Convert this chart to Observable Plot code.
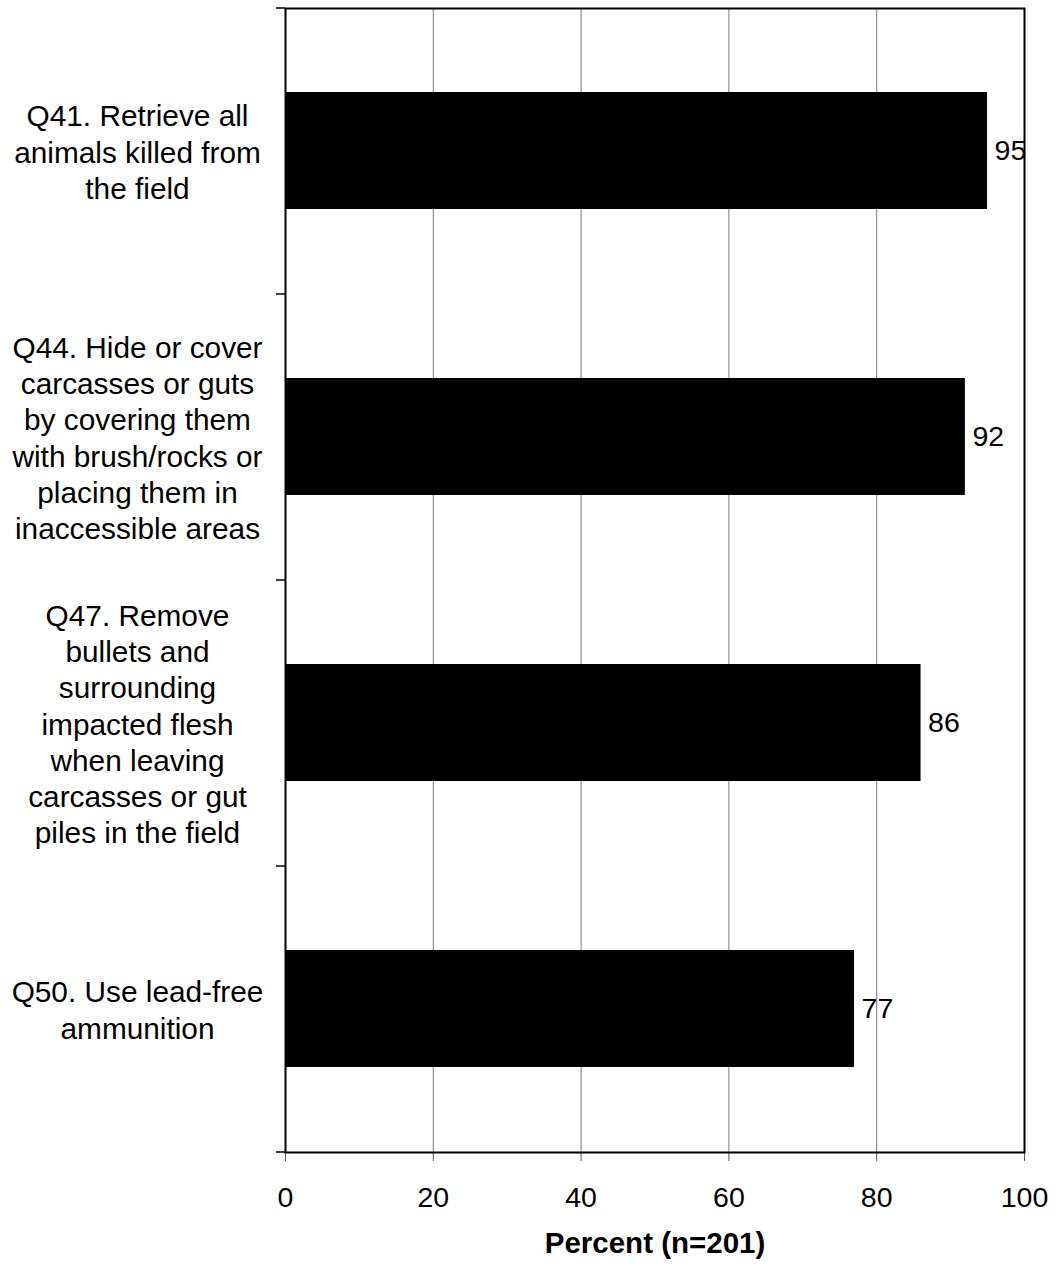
<!DOCTYPE html>
<html>
<head>
<meta charset="utf-8">
<script src="https://cdn.jsdelivr.net/npm/d3@7"></script>
<script src="https://cdn.jsdelivr.net/npm/@observablehq/plot@0.6"></script>
<style>
  html, body { margin: 0; padding: 0; background: #fff; }
  #chart svg { display: block; }
</style>
</head>
<body>
<div id="chart"></div>
<script>
const categories = ["Q41", "Q44", "Q47", "Q50"];
const values = [95, 92, 86, 77];
const labels = [
  "Q41. Retrieve all\nanimals killed from\nthe field",
  "Q44. Hide or cover\ncarcasses or guts\nby covering them\nwith brush/rocks or\nplacing them in\ninaccessible areas",
  "Q47. Remove\nbullets and\nsurrounding\nimpacted flesh\nwhen leaving\ncarcasses or gut\npiles in the field",
  "Q50. Use lead-free\nammunition"
];
const xTicks = [0, 20, 40, 60, 80, 100];
const gridTicks = [20, 40, 60, 80];
const xTitle = "Percent (n=201)";

const data = categories.map((c, i) => ({cat: c, value: values[i], label: labels[i]}));

const W = 1056, H = 1264;
const mT = 8, mB = 112, mL = 285, mR = 32;
const step = (H - mT - mB) / categories.length;
const font = "Arial, 'Liberation Sans', sans-serif";

const chart = Plot.plot({
  width: W,
  height: H,
  marginTop: mT,
  marginBottom: mB,
  marginLeft: mL,
  marginRight: mR,
  style: {fontFamily: font, fontSize: "29px", color: "black", background: "white"},
  x: {domain: [0, 100], ticks: xTicks},
  y: {domain: categories, paddingInner: 0.59, paddingOuter: 0.295},
  marks: [
    Plot.gridX({ticks: gridTicks, stroke: "#7a7a7a", strokeOpacity: 1, strokeWidth: 1}),
    Plot.barX(data, {x: "value", y: "cat", fill: "black"}),
    Plot.text(data, {x: "value", y: "cat", text: d => String(d.value), dx: 7, textAnchor: "start", fontSize: 28.5, fill: "black"}),
    Plot.text(data, {y: "cat", text: "label", frameAnchor: "left", dx: -148, textAnchor: "middle", lineHeight: 1.215, fontSize: 29.8, fill: "black"}),
    Plot.axisX({ticks: xTicks, tickSize: 9, tickPadding: 25, stroke: "#555", label: null, fontSize: 28.5, tickFormat: d => String(d)}),
    Plot.axisY({ticks: [], label: null}),
    Plot.ruleY(categories, {y: d => d, x1: 0, x2: 0, insetLeft: -9, dy: -step / 2, stroke: "black", strokeWidth: 1.5}),
    Plot.ruleY([categories[categories.length - 1]], {y: d => d, x1: 0, x2: 0, insetLeft: -9, dy: step / 2, stroke: "black", strokeWidth: 1.5}),
    Plot.frame({stroke: "black", strokeWidth: 2}),
    Plot.text([xTitle], {frameAnchor: "bottom", dy: 100, lineAnchor: "bottom", fontWeight: "bold", fontSize: 29.5, fill: "black"})
  ]
});

document.getElementById("chart").appendChild(chart);
</script>
</body>
</html>
